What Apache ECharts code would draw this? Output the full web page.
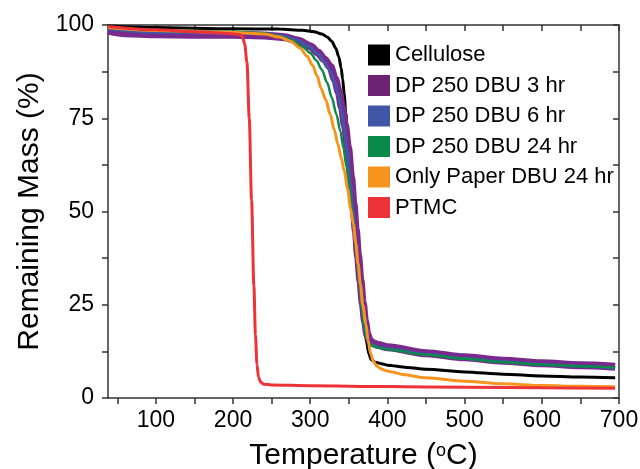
<!DOCTYPE html>
<html>
<head>
<meta charset="utf-8">
<script src="https://cdn.jsdelivr.net/npm/echarts@6/dist/echarts.min.js"></script>
<style>html,body{margin:0;padding:0;background:#fff}#c{width:640px;height:469px}</style>
</head>
<body>
<div id="c"></div>
<script>
const seriesNames = ['Cellulose', 'DP 250 DBU 3 hr', 'DP 250 DBU 6 hr', 'DP 250 DBU 24 hr', 'Only Paper DBU 24 hr', 'PTMC'];

const celluloseT = [38, 100, 200, 260, 290, 305, 315, 322, 328, 333, 337, 340, 342, 344, 346, 348, 351, 355, 359, 363, 367, 370, 373, 376, 379, 384, 392, 400, 425, 450, 500, 550, 600, 650, 695];
const celluloseM = [99.7, 99.3, 99.0, 98.9, 98.6, 98.2, 97.6, 96.8, 95.6, 93.8, 91.5, 88.5, 85.5, 81.5, 76.5, 71.0, 64.0, 55.0, 46.0, 37.0, 28.0, 21.0, 15.0, 11.8, 10.3, 9.6, 9.2, 8.8, 8.2, 7.7, 7.0, 6.4, 5.9, 5.6, 5.4];

const dp3T = [38, 60, 100, 150, 200, 240, 265, 285, 300, 310, 318, 326, 332, 337, 341, 345, 349, 353, 356, 359, 362, 365, 368, 371, 374, 377, 381, 388, 400, 450, 500, 550, 600, 650, 695];
const dp3M = [98.5, 97.8, 97.5, 97.4, 97.4, 97.2, 96.8, 95.8, 94.3, 92.6, 90.8, 88.8, 85.5, 82.0, 78.0, 73.0, 67.0, 59.0, 52.0, 45.0, 38.0, 31.5, 25.5, 20.5, 17.0, 15.4, 14.7, 14.2, 13.6, 12.0, 10.9, 10.0, 9.3, 8.8, 8.4];

const dp6T = [38, 100, 200, 240, 265, 285, 300, 310, 318, 325, 331, 336, 340, 344, 348, 352, 355, 358, 361, 364, 367, 370, 373, 376, 380, 388, 400, 450, 500, 550, 600, 650, 695];
const dp6M = [99.0, 98.0, 97.8, 97.6, 97.0, 95.8, 94.0, 92.2, 90.2, 88.0, 85.0, 81.5, 77.5, 72.5, 66.0, 58.0, 51.0, 44.0, 37.0, 30.5, 24.5, 19.5, 16.3, 14.8, 14.2, 13.7, 13.2, 11.7, 10.6, 9.7, 9.0, 8.5, 8.0];

const dp24T = [38, 100, 200, 240, 260, 275, 290, 300, 308, 315, 322, 328, 334, 339, 343, 347, 351, 355, 358, 361, 364, 367, 370, 373, 376, 380, 388, 400, 450, 500, 550, 600, 650, 695];
const dp24M = [99.3, 98.6, 98.2, 97.8, 97.0, 96.0, 94.2, 92.5, 90.5, 88.0, 84.5, 80.5, 76.0, 71.5, 67.0, 62.0, 56.0, 49.0, 43.0, 36.5, 30.0, 24.0, 19.0, 16.0, 14.6, 14.0, 13.5, 13.0, 11.6, 10.5, 9.6, 8.9, 8.5, 8.2];

const paperT = [38, 100, 200, 240, 260, 275, 287, 296, 303, 309, 314, 320, 326, 331, 336, 340, 344, 348.5, 352, 356, 359, 362, 365, 368, 372, 375, 378, 382, 386, 391, 397, 405, 420, 450, 500, 550, 600, 650, 695];
const paperM = [99.3, 98.5, 98.0, 97.6, 96.8, 95.6, 93.8, 91.6, 89.2, 86.3, 83.0, 80.0, 76.0, 72.0, 68.0, 64.5, 61.0, 56.0, 51.0, 46.5, 41.5, 36.0, 30.5, 25.0, 20.0, 15.5, 12.0, 9.8, 8.6, 7.9, 7.4, 7.0, 6.3, 5.4, 4.5, 3.8, 3.35, 3.15, 3.0];

const ptmcT = [38, 100, 150, 190, 207, 212, 215, 218, 221, 224, 227, 229, 231, 233, 236, 240, 250, 300, 400, 500, 600, 695];
const ptmcM = [99.6, 98.7, 98.2, 97.8, 97.5, 97.0, 95.0, 90.0, 75.0, 53.0, 30.0, 17.0, 9.0, 5.5, 4.2, 3.7, 3.5, 3.3, 3.05, 2.9, 2.75, 2.6];

const xTicks = [50, 100, 150, 200, 250, 300, 350, 400, 450, 500, 550, 600, 650, 700];
const xLabels = [100, 200, 300, 400, 500, 600, 700];
const yLabels = [0, 25, 50, 75, 100];

const colors = ['#000000', '#7a2a8c', '#4256a8', '#0a8a48', '#f7941d', '#ee3338'];
const legendColors = ['#000000', '#6e2275', '#4256a8', '#0a8a48', '#f7941d', '#ee3338'];
const widths = [3, 8, 3, 2.5, 3, 3];

const tList = [celluloseT, dp3T, dp6T, dp24T, paperT, ptmcT];
const mList = [celluloseM, dp3M, dp6M, dp24M, paperM, ptmcM];

const font = 'Liberation Sans, Arial, sans-serif';
const axisColor = '#333';

const chart = echarts.init(document.getElementById('c'), null, {renderer: 'canvas'});

const series = seriesNames.map((n, i) => ({
  name: n,
  type: 'line',
  showSymbol: false,
  smooth: 0.3,
  smoothMonotone: 'x',
  data: tList[i].map((t, k) => [t, mList[i][k]]),
  lineStyle: {color: colors[i], width: widths[i]},
  itemStyle: {color: legendColors[i]},
  z: 2 + i
}));

chart.setOption({
  animation: false,
  backgroundColor: '#fff',
  grid: {left: 108, right: 21, top: 25, bottom: 71, containLabel: false, outerBoundsMode: 'none'},
  legend: {
    orient: 'vertical',
    left: 363,
    top: 39,
    padding: 5,
    icon: 'rect',
    itemWidth: 22,
    itemHeight: 21,
    itemGap: 8.5,
    data: seriesNames,
    textStyle: {fontFamily: font, fontSize: 22, color: '#000'}
  },
  xAxis: [{
    type: 'value', min: 38, max: 700, position: 'bottom',
    name: 'Temperature ({s|o}C)', nameLocation: 'middle', nameGap: 43,
    nameTextStyle: {fontFamily: font, fontSize: 30, color: '#000', rich: {s: {fontSize: 18, verticalAlign: 'top', fontFamily: font, color: '#000', padding: [1, 0, 0, 0]}}},
    axisLine: {onZero: false, lineStyle: {color: axisColor, width: 1.5}},
    axisTick: {show: true, inside: false, length: 6, customValues: xTicks, lineStyle: {color: axisColor, width: 1.5}},
    axisLabel: {customValues: xLabels, fontFamily: font, fontSize: 23, color: '#000', margin: 11},
    splitLine: {show: false}
  }, {
    type: 'value', min: 38, max: 700, position: 'top',
    axisLine: {onZero: false, lineStyle: {color: axisColor, width: 1.5}},
    axisTick: {show: true, inside: true, length: 6, customValues: xTicks, lineStyle: {color: axisColor, width: 1.5}},
    axisLabel: {show: false},
    splitLine: {show: false}
  }],
  yAxis: [{
    type: 'value', min: 0, max: 100, interval: 12.5, position: 'left',
    name: 'Remaining Mass (%)', nameLocation: 'middle', nameGap: 62, nameRotate: 90,
    nameTextStyle: {fontFamily: font, fontSize: 30, color: '#000'},
    axisLine: {onZero: false, lineStyle: {color: axisColor, width: 1.5}},
    axisTick: {show: true, inside: false, length: 6, lineStyle: {color: axisColor, width: 1.5}},
    axisLabel: {customValues: yLabels, fontFamily: font, fontSize: 23, color: '#000', margin: 14},
    splitLine: {show: false}
  }, {
    type: 'value', min: 0, max: 100, interval: 12.5, position: 'right',
    axisLine: {onZero: false, lineStyle: {color: axisColor, width: 1.5}},
    axisTick: {show: true, inside: true, length: 6, lineStyle: {color: axisColor, width: 1.5}},
    axisLabel: {show: false},
    splitLine: {show: false}
  }],
  series: series
});
</script>
</body>
</html>
